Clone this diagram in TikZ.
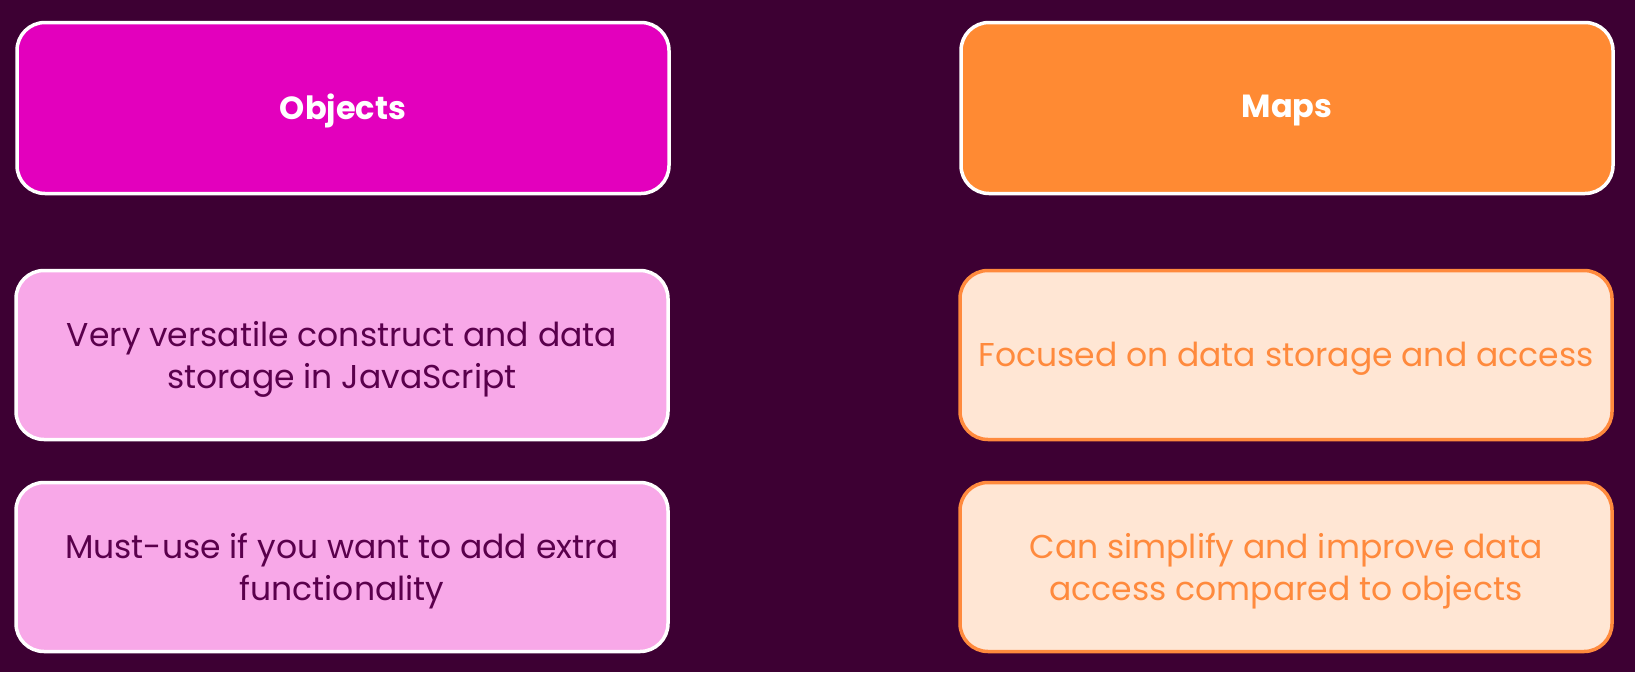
\documentclass[tikz,border=0pt]{standalone}
\usepackage{fontspec}
\setmainfont{Poppins}
\definecolor{bgpurple}{HTML}{3D0033}
\definecolor{objfill}{HTML}{E300BD}
\definecolor{mapfill}{HTML}{FF8A33}
\definecolor{pinkfill}{HTML}{F8A8E8}
\definecolor{pinktext}{HTML}{5A004C}
\definecolor{peachfill}{HTML}{FFE6D4}
\definecolor{peachline}{HTML}{FF8A3D}
\tikzset{
  x=1pt, y=-1pt,
  card/.style={rounded corners=28pt, line width=3.5pt, minimum width=652pt, anchor=center},
  headcard/.style={card, draw=white, minimum height=171pt},
  objhead/.style={headcard, fill=objfill},
  maphead/.style={headcard, fill=mapfill},
  headtext/.style={text=white, font=\fontsize{32}{40}\selectfont\bfseries},
  bodycard/.style={card, minimum height=169pt},
  objbody/.style={bodycard, draw=white, fill=pinkfill},
  mapbody/.style={bodycard, draw=peachline, fill=peachfill},
  bodytext/.style={align=center, font=\fontsize{33}{42}\selectfont},
  objtext/.style={bodytext, text=pinktext},
  maptext/.style={bodytext, text=peachline},
}
\begin{document}
\begin{tikzpicture}
\fill[bgpurple] (0,0) rectangle (1635,672);
\useasboundingbox (0,0) rectangle (1635,672);

% header cards
\node[objhead] (objects) at (343,108) {};
\node[maphead] (maps) at (1287,108) {};
\node[headtext] (objectsT) at ([yshift=-3pt]objects.center) {Objects};
\node[headtext] (mapsT) at ([yshift=-3pt]maps.center) {Maps};

% body cards
\node[objbody] (objA) at (342,355) {};
\node[objbody] (objB) at (342,567) {};
\node[mapbody] (mapA) at (1286,355) {};
\node[mapbody] (mapB) at (1286,567) {};

\node[objtext] (objAT) at ([yshift=-4pt]objA.center) {Very versatile construct and data\\storage in JavaScript};
\node[objtext] (objBT) at ([yshift=-4pt]objB.center) {Must-use if you want to add extra\\functionality};
\node[maptext] (mapAT) at ([yshift=-4pt]mapA.center) {Focused on data storage and access};
\node[maptext] (mapBT) at ([yshift=-4pt]mapB.center) {Can simplify and improve data\\access compared to objects};
\end{tikzpicture}
\end{document}
